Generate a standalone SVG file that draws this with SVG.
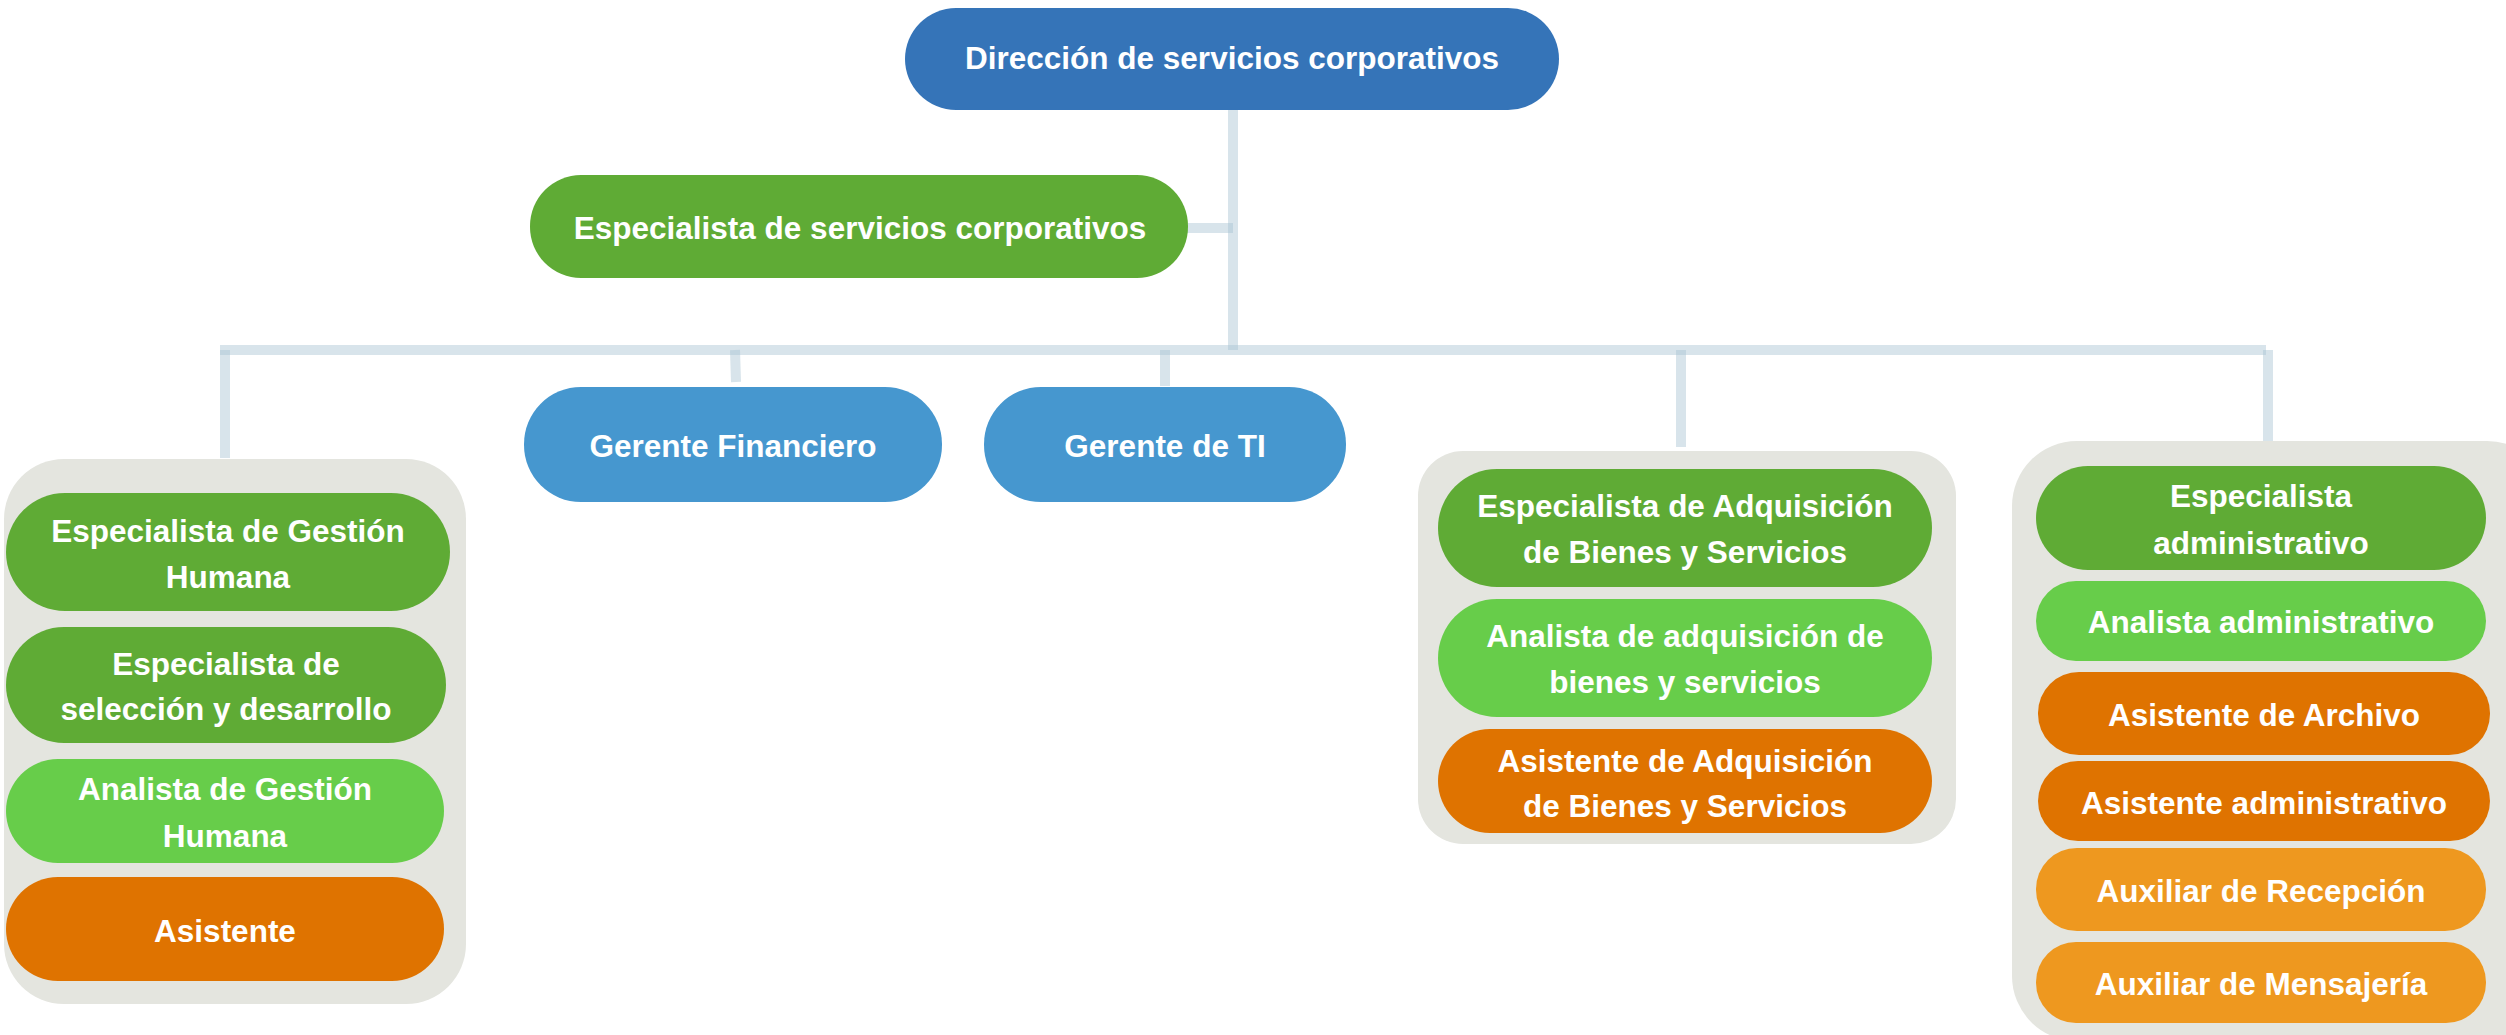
<svg xmlns="http://www.w3.org/2000/svg" width="2506" height="1035" viewBox="0 0 2506 1035">
<style>
.t{font-family:"Liberation Sans",Arial,sans-serif;font-weight:bold;font-size:31.5px;fill:#ffffff;text-anchor:middle}
.c{stroke:#A9C4D3;stroke-opacity:0.45;stroke-width:10;fill:none}
.box{fill:#E4E5DF}
.blue{fill:#3574B8}
.lblue{fill:#4697CF}
.dg{fill:#5FAB35}
.lg{fill:#67CD4A}
.do{fill:#DF7300}
.lo{fill:#EE981F}
</style>
<rect width="2506" height="1035" fill="#ffffff"/>
<g id="connectors">
<line class="c" x1="1233" y1="110" x2="1233" y2="350"/>
<line class="c" x1="1187" y1="228" x2="1233" y2="228"/>
<line class="c" x1="220" y1="350" x2="2266" y2="350"/>
<line class="c" x1="225" y1="350" x2="225" y2="458"/>
<line class="c" x1="735" y1="350" x2="736" y2="382"/>
<line class="c" x1="1165" y1="350" x2="1165" y2="386"/>
<line class="c" x1="1681" y1="350" x2="1681" y2="447"/>
<line class="c" x1="2268" y1="350" x2="2268" y2="442"/>
</g>
<g id="direccion">
<rect class="blue" x="905" y="8" width="654" height="102" rx="51"/>
<text class="t" x="1232" y="69">Dirección de servicios corporativos</text>
</g>
<g id="especialista-corp">
<rect class="dg" x="530" y="175" width="658" height="103" rx="51"/>
<text class="t" x="860" y="239">Especialista de servicios corporativos</text>
</g>
<g id="gerente-financiero">
<rect class="lblue" x="524" y="387" width="418" height="115" rx="57"/>
<text class="t" x="733" y="457">Gerente Financiero</text>
</g>
<g id="gerente-ti">
<rect class="lblue" x="984" y="387" width="362" height="115" rx="57"/>
<text class="t" x="1165" y="457">Gerente de TI</text>
</g>
<g id="grupo-gestion-humana">
<rect class="box" x="4" y="459" width="462" height="545" rx="60"/>
<g id="esp-gestion-humana">
<rect class="dg" x="6" y="493" width="444" height="118" rx="59"/>
<text class="t" x="228" y="542">Especialista de Gestión</text>
<text class="t" x="228" y="588">Humana</text>
</g>
<g id="esp-seleccion">
<rect class="dg" x="6" y="627" width="440" height="116" rx="58"/>
<text class="t" x="226" y="675">Especialista de</text>
<text class="t" x="226" y="720">selección y desarrollo</text>
</g>
<g id="analista-gestion-humana">
<rect class="lg" x="6" y="759" width="438" height="104" rx="52"/>
<text class="t" x="225" y="800">Analista de Gestión</text>
<text class="t" x="225" y="847">Humana</text>
</g>
<g id="asistente">
<rect class="do" x="6" y="877" width="438" height="104" rx="52"/>
<text class="t" x="225" y="942">Asistente</text>
</g>
</g>
<g id="grupo-adquisicion">
<rect class="box" x="1418" y="451" width="538" height="393" rx="45"/>
<g id="esp-adquisicion">
<rect class="dg" x="1438" y="469" width="494" height="118" rx="59"/>
<text class="t" x="1685" y="517">Especialista de Adquisición</text>
<text class="t" x="1685" y="563">de Bienes y Servicios</text>
</g>
<g id="analista-adquisicion">
<rect class="lg" x="1438" y="599" width="494" height="118" rx="59"/>
<text class="t" x="1685" y="647">Analista de adquisición de</text>
<text class="t" x="1685" y="693">bienes y servicios</text>
</g>
<g id="asistente-adquisicion">
<rect class="do" x="1438" y="729" width="494" height="104" rx="52"/>
<text class="t" x="1685" y="772">Asistente de Adquisición</text>
<text class="t" x="1685" y="817">de Bienes y Servicios</text>
</g>
</g>
<g id="grupo-administrativo">
<rect class="box" x="2012" y="441" width="540" height="600" rx="65"/>
<g id="esp-administrativo">
<rect class="dg" x="2036" y="466" width="450" height="104" rx="52"/>
<text class="t" x="2261" y="507">Especialista</text>
<text class="t" x="2261" y="554">administrativo</text>
</g>
<g id="analista-administrativo">
<rect class="lg" x="2036" y="581" width="450" height="80" rx="40"/>
<text class="t" x="2261" y="633">Analista administrativo</text>
</g>
<g id="asistente-archivo">
<rect class="do" x="2038" y="672" width="452" height="83" rx="41"/>
<text class="t" x="2264" y="726">Asistente de Archivo</text>
</g>
<g id="asistente-administrativo">
<rect class="do" x="2038" y="761" width="452" height="80" rx="40"/>
<text class="t" x="2264" y="814">Asistente administrativo</text>
</g>
<g id="auxiliar-recepcion">
<rect class="lo" x="2036" y="848" width="450" height="83" rx="41"/>
<text class="t" x="2261" y="902">Auxiliar de Recepción</text>
</g>
<g id="auxiliar-mensajeria">
<rect class="lo" x="2036" y="942" width="450" height="81" rx="40"/>
<text class="t" x="2261" y="995">Auxiliar de Mensajería</text>
</g>
</g>
</svg>
